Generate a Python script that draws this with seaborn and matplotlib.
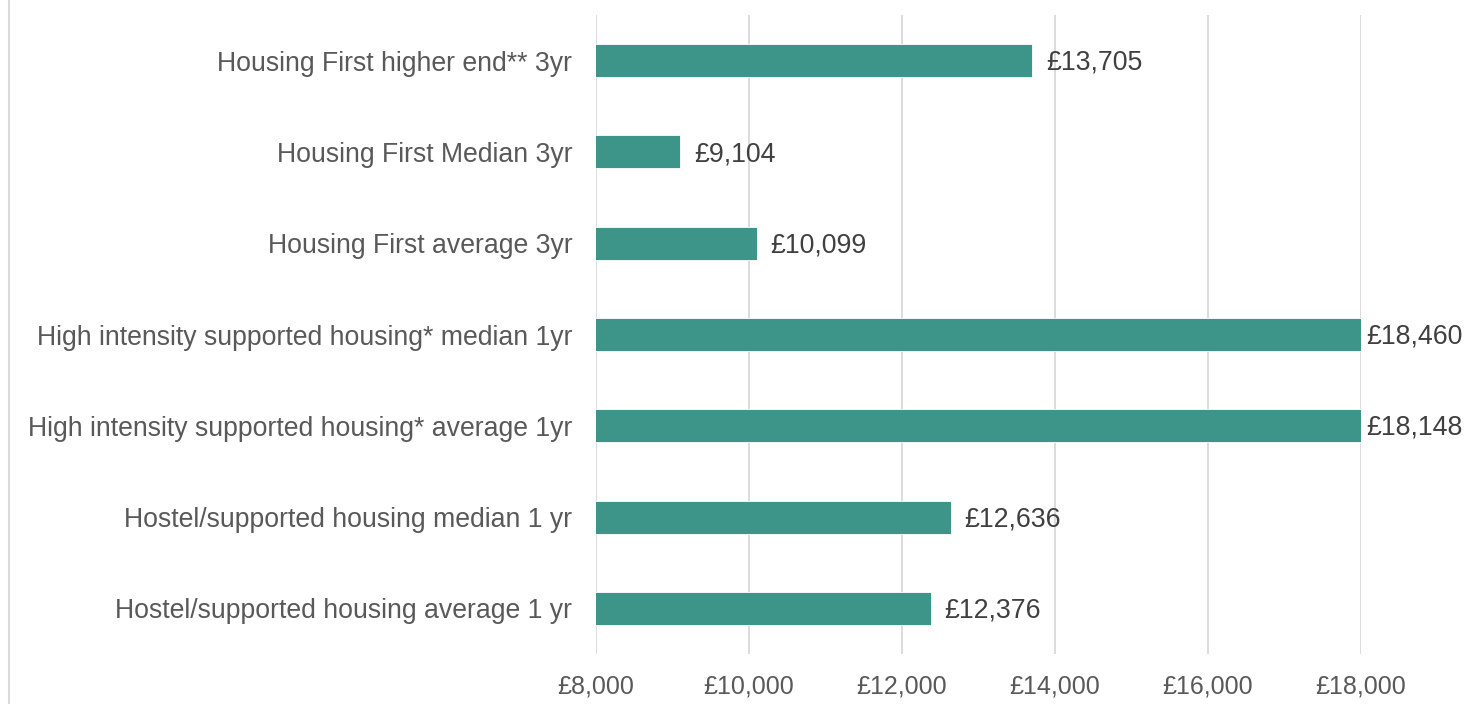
import matplotlib
matplotlib.use("Agg")
import matplotlib.pyplot as plt
from matplotlib.lines import Line2D
import seaborn as sns

# categories, top to bottom
labels = [
    "Housing First higher end** 3yr",
    "Housing First Median 3yr",
    "Housing First average 3yr",
    "High intensity supported housing* median 1yr",
    "High intensity supported housing* average 1yr",
    "Hostel/supported housing median 1 yr",
    "Hostel/supported housing average 1 yr",
]
costs = [13705, 9104, 10099, 18460, 18148, 12636, 12376]
xticks = [8000, 10000, 12000, 14000, 16000, 18000]

sns.set_theme(style="white")
plt.rcParams['font.family'] = ['Liberation Sans', 'DejaVu Sans']

fig = plt.figure(figsize=(14.66, 7.04), dpi=100)
ax = fig.add_axes([596/1466, 1-654/704, (1361-596)/1466, (654-15)/704])

sns.barplot(x=costs, y=labels, color="#3d9489", saturation=1, width=0.36,
            orient="h", ax=ax, edgecolor="white", linewidth=0.6)

ax.set_xlim(8000, 18000)
ax.set_ylim(6.5, -0.5)
ax.set_xticks(xticks)
ax.set_xticklabels(["£{:,}".format(t) for t in xticks])
ax.grid(axis="x", color="#d9d9d9", linewidth=1.3)
ax.set_axisbelow(True)
for s in ax.spines.values():
    s.set_visible(False)
ax.tick_params(axis="x", length=0, pad=15, labelsize=18, labelcolor="#595959")
ax.tick_params(axis="y", length=0, pad=17, labelsize=19.2, labelcolor="#595959")
ax.set_xlabel("")
ax.set_ylabel("")

# value labels, sitting just past the (possibly clipped) bar end
for i, v in enumerate(costs):
    xe = min(v, 18000)
    off = 10 if v <= 18000 else 4
    ax.annotate("£{:,}".format(v), (xe, i), xytext=(off, -1.5), textcoords="offset points",
                va="center", ha="left", fontsize=19.3, color="#404040", annotation_clip=False)

# thin frame line at the left edge of the picture
fig.add_artist(Line2D([9/1466, 9/1466], [0, 1], transform=fig.transFigure,
                      color="#d9d9d9", linewidth=1.5))

fig.savefig("out.png", dpi=100)
